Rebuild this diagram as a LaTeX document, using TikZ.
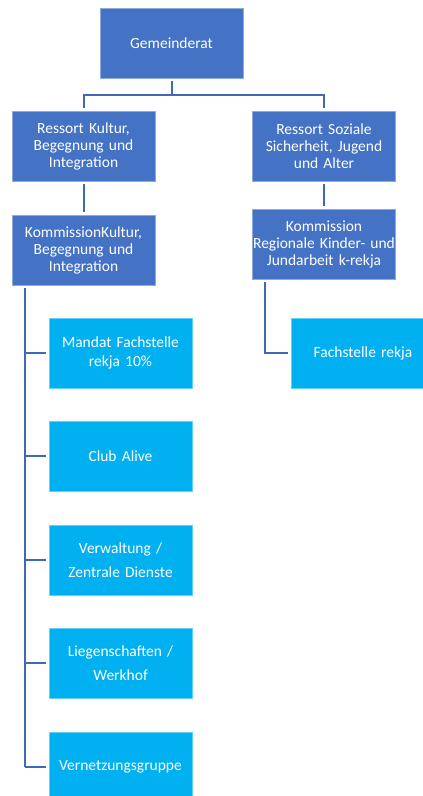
\documentclass[tikz,border=0pt]{standalone}
\usepackage{fontspec}
\setmainfont{Carlito}
\usetikzlibrary{calc}
\definecolor{dblue}{HTML}{4472C4}
\definecolor{lblue}{HTML}{00B0F0}
\definecolor{lineblue}{HTML}{4068B8}
\tikzset{
  box/.style={minimum width=143pt, minimum height=70pt, inner sep=0pt, text width=143pt, align=center, text=white, font=\fontsize{15.5}{17}\selectfont},
  darkbox/.style={box, fill=dblue, draw=dblue!60!white, line width=0.6pt},
  lightbox/.style={box, fill=lblue, draw=lblue!60!white, line width=0.6pt},
  conn/.style={draw=lineblue, line width=2pt}
}
\begin{document}
\begin{tikzpicture}[x=1pt,y=-1pt]
\useasboundingbox (0,0) rectangle (423,796);
\clip (0,0) rectangle (423,796);
\node[darkbox] (g) at (171.5,43) {Gemeinderat};
\node[darkbox] (rk) at (83.5,146) {Ressort Kultur,\\Begegnung und\\Integration};
\node[darkbox] (rs) at (324,146) {Ressort Soziale\\Sicherheit, Jugend\\und Alter};
\node[darkbox] (kk) at (83.5,250) {KommissionKultur,\\Begegnung und\\Integration};
\node[darkbox] (kr) at (324,244) {Kommission\\Regionale Kinder- und\\Jundarbeit k-rekja};
\node[lightbox, font=\fontsize{15.5}{19}\selectfont] (m) at (120.5,353) {Mandat Fachstelle\\rekja 10\%};
\node[lightbox] (c) at (120.5,456) {Club Alive};
\node[lightbox, font=\fontsize{15.5}{24}\selectfont] (v) at (120.5,560) {Verwaltung /\\Zentrale Dienste};
\node[lightbox, font=\fontsize{15.5}{24}\selectfont] (l) at (120.5,663) {Liegenschaften /\\Werkhof};
\node[lightbox] (n) at (120.5,767) {Vernetzungsgruppe};
\node[lightbox] (f) at (363,353) {Fachstelle rekja};
% connectors
\coordinate (gj) at (171.5,95);
\draw[conn, shorten <=3pt] (g.south) -- (gj);
\draw[conn, shorten >=3pt] (gj) -| (rk.north);
\draw[conn, shorten >=3pt] (gj) -| (rs.north);
\draw[conn, shorten <=3pt, shorten >=3pt] (rk.south) -- (kk.north);
\draw[conn, shorten <=3pt, shorten >=3pt] (rs.south) -- (kr.north);
\coordinate (kt) at ($(kk.south west)+(13,3)$);
\coordinate (kb) at (kt |- n.west);
\draw[conn] (kt) -- (kb);
\foreach \b in {m,c,v,l,n} {
  \draw[conn, shorten >=3pt] (kt |- \b.west) -- (\b.west);
}
\coordinate (rt) at ($(kr.south west)+(13,3)$);
\draw[conn, shorten >=3pt, line join=miter] (rt) |- (f.west);
\end{tikzpicture}
\end{document}
